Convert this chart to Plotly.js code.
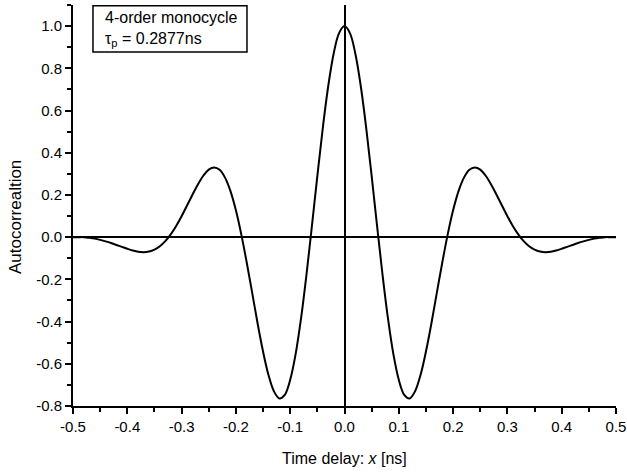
<!DOCTYPE html>
<html>
<head>
<meta charset="utf-8">
<script src="https://cdn.plot.ly/plotly-3.0.1.min.js"></script>
<style>html,body{margin:0;padding:0;background:#fff;}#chart{width:627px;height:473px;}</style>
</head>
<body>
<div id="chart"></div>
<script>
// Time delay [ns]
const timeDelay = [
 -0.50,-0.49,-0.48,-0.47,-0.46,-0.45,-0.44,-0.43,-0.42,-0.41,
 -0.40,-0.39,-0.38,-0.37,-0.36,-0.35,-0.34,-0.33,-0.32,-0.31,
 -0.30,-0.29,-0.28,-0.27,-0.26,-0.25,-0.24,-0.23,-0.22,-0.21,
 -0.20,-0.19,-0.18,-0.17,-0.16,-0.15,-0.14,-0.13,-0.12,-0.11,
 -0.10,-0.09,-0.08,-0.07,-0.06,-0.05,-0.04,-0.03,-0.02,-0.01,
 0.00,
 0.01,0.02,0.03,0.04,0.05,0.06,0.07,0.08,0.09,0.10,
 0.11,0.12,0.13,0.14,0.15,0.16,0.17,0.18,0.19,0.20,
 0.21,0.22,0.23,0.24,0.25,0.26,0.27,0.28,0.29,0.30,
 0.31,0.32,0.33,0.34,0.35,0.36,0.37,0.38,0.39,0.40,
 0.41,0.42,0.43,0.44,0.45,0.46,0.47,0.48,0.49,0.50
];
// Autocorrelation values
const autocorr = [
 0.000,0.000,0.000,-0.003,-0.007,-0.013,-0.020,-0.028,-0.037,-0.046,
 -0.055,-0.063,-0.069,-0.071,-0.068,-0.059,-0.043,-0.019,0.013,0.053,
 0.099,0.150,0.201,0.250,0.291,0.320,0.330,0.319,0.282,0.218,
 0.127,0.012,-0.121,-0.264,-0.409,-0.542,-0.653,-0.730,-0.764,-0.747,
 -0.676,-0.554,-0.384,-0.177,0.053,0.290,0.517,0.715,0.869,0.967,
 1.000,
 0.967,0.869,0.715,0.517,0.290,0.053,-0.177,-0.384,-0.554,-0.676,
 -0.747,-0.764,-0.730,-0.653,-0.542,-0.409,-0.264,-0.121,0.012,0.127,
 0.218,0.282,0.319,0.330,0.320,0.291,0.250,0.201,0.150,0.099,
 0.053,0.013,-0.019,-0.043,-0.059,-0.068,-0.071,-0.069,-0.063,-0.055,
 -0.046,-0.037,-0.028,-0.020,-0.013,-0.007,-0.003,0.000,0.000,0.000
];
const xTickVals = [-0.5,-0.4,-0.3,-0.2,-0.1,0.0,0.1,0.2,0.3,0.4,0.5];
const xTickText = ["-0.5","-0.4","-0.3","-0.2","-0.1","0.0","0.1","0.2","0.3","0.4","0.5"];
const yTickVals = [-0.8,-0.6,-0.4,-0.2,0.0,0.2,0.4,0.6,0.8,1.0];
const yTickText = ["-0.8","-0.6","-0.4","-0.2","0.0","0.2","0.4","0.6","0.8","1.0"];
const xTitle = "Time delay: <i>x</i> [ns]";
const yTitle = "Autocorrealtion";
const boxTitle = "4-order monocycle";
const boxParam = "τ<sub>p</sub> = 0.2877ns";

const trace = {
  x: timeDelay, y: autocorr, type: 'scatter', mode: 'lines',
  line: {color: '#000', width: 2, shape: 'spline', smoothing: 1},
  hoverinfo: 'skip', showlegend: false
};

const font = {family: 'Liberation Sans, Arial, sans-serif', color: '#000'};

const layout = {
  width: 627, height: 473,
  margin: {l: 73, r: 11, t: 5, b: 67},
  paper_bgcolor: '#fff', plot_bgcolor: '#fff',
  font: Object.assign({size: 15}, font),
  showlegend: false,
  xaxis: {
    range: [-0.5, 0.5], tickvals: xTickVals, ticktext: xTickText,
    ticks: 'outside', ticklen: 6, tickwidth: 2, tickcolor: '#000',
    showline: true, linecolor: '#000', linewidth: 2,
    showgrid: false, zeroline: true, zerolinecolor: '#000', zerolinewidth: 2,
    minor: {dtick: 0.05, tick0: 0, ticks: 'outside', ticklen: 4, tickwidth: 2, tickcolor: '#000', showgrid: false},
    tickfont: Object.assign({size: 15}, font)
  },
  yaxis: {
    range: [-0.8, 1.1], tickvals: yTickVals, ticktext: yTickText,
    ticks: 'outside', ticklen: 6, tickwidth: 2, tickcolor: '#000',
    showline: true, linecolor: '#000', linewidth: 2,
    showgrid: false, zeroline: true, zerolinecolor: '#000', zerolinewidth: 2,
    minor: {dtick: 0.1, tick0: 0, ticks: 'outside', ticklen: 4, tickwidth: 2, tickcolor: '#000', showgrid: false},
    tickfont: Object.assign({size: 15}, font)
  },
  shapes: [{
    type: 'rect', xref: 'paper', yref: 'paper',
    x0: 0.0368, x1: 0.3204, y0: 0.883, y1: 0.998,
    line: {color: '#000', width: 1.5}, fillcolor: '#fff', layer: 'above'
  }],
  annotations: [
    {
      xref: 'paper', yref: 'paper', x: 0.0552, y: 0.941,
      xanchor: 'left', yanchor: 'middle', align: 'left',
      text: boxTitle + '<br>' + boxParam,
      showarrow: false,
      font: Object.assign({size: 16}, font)
    },
    {
      xref: 'paper', yref: 'paper', x: 0.5, y: -0.13,
      xanchor: 'center', yanchor: 'middle',
      text: xTitle, showarrow: false,
      font: Object.assign({size: 16}, font)
    },
    {
      xref: 'paper', yref: 'paper', x: -0.107, y: 0.471,
      xanchor: 'center', yanchor: 'middle', textangle: -90,
      text: yTitle, showarrow: false,
      font: Object.assign({size: 17}, font)
    }
  ]
};

Plotly.newPlot('chart', [trace], layout, {staticPlot: true, displayModeBar: false});
</script>
</body>
</html>
